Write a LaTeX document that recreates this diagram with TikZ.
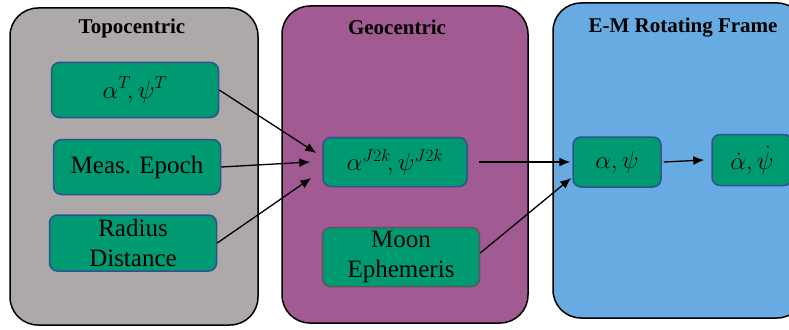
\documentclass[tikz,border=0pt]{standalone}
\usepackage{fontspec}
\setmainfont{Liberation Serif}
\usetikzlibrary{arrows.meta}
\definecolor{topogray}{HTML}{ADA9A9}
\definecolor{geopurple}{HTML}{A15A92}
\definecolor{rotblue}{HTML}{68ABE3}
\definecolor{boxgreen}{HTML}{009A72}
\definecolor{boxedge}{HTML}{2F528F}
\tikzset{
  panel/.style={draw=black,line width=1.5pt,rounded corners=28pt},
  paneltitle/.style={font=\rmfamily\bfseries\fontsize{21}{24}\selectfont,inner sep=0pt},
  quantity/.style={draw=boxedge,fill=boxgreen,line width=1.5pt,rounded corners=8pt,
    align=center,font=\rmfamily\fontsize{25}{30}\selectfont,inner sep=0pt},
  flow/.style={->,line width=1.3pt}
}
\begin{document}
\begin{tikzpicture}[x=1pt,y=-1pt,>={Latex[length=11pt,width=9pt]}]
  \clip (0,0) rectangle (789,329);
  \fill[white] (0,0) rectangle (789,329);
  % frames
  \draw[panel,fill=topogray] (10,8) rectangle (258,325);
  \draw[panel,fill=geopurple] (282,6) rectangle (528,323);
  \draw[panel,fill=rotblue] (553,3) rectangle (805,318);
  \node[paneltitle] (topo) at (132,28) {Topocentric};
  \node[paneltitle] (geo) at (397,27) {Geocentric};
  \node[paneltitle] (rot) at (683,28) {E-M Rotating Frame};
  % quantities
  \node[quantity,minimum width=167pt,minimum height=55pt] (topoangles) at (135,90)
    {$\alpha^T\!,\psi^T$};
  \node[quantity,minimum width=167pt,minimum height=55pt] (epoch) at (137,167)
    {Meas. Epoch};
  \node[quantity,minimum width=167pt,minimum height=56pt] (radius) at (133,243)
    {Radius\\Distance};
  \node[quantity,minimum width=144pt,minimum height=49pt] (jangles) at (395,162)
    {$\alpha^{J2k}\!,\psi^{J2k}$};
  \node[quantity,draw=gray!70!black,minimum width=157pt,minimum height=59pt] (moon) at (401,257)
    {Moon\\Ephemeris};
  \node[quantity,minimum width=88pt,minimum height=50pt] (rotangles) at (617,162)
    {$\alpha,\psi$};
  \node[quantity,minimum width=80pt,minimum height=51pt] (rates) at (752,160)
    {$\dot{\alpha},\dot{\psi}$};
  % transformations
  \draw[flow] (topoangles.east) -- ([xshift=-6pt,yshift=9pt]jangles.west);
  \draw[flow] (epoch.east) -- ([xshift=-12pt]jangles.west);
  \draw[flow] (radius.east) -- ([xshift=-11pt,yshift=-16pt]jangles.west);
  \draw[flow,shorten <=11pt] (jangles.east) -- ([xshift=-2pt]rotangles.west);
  \draw[flow] ([yshift=4pt]moon.east) -- ([xshift=-1pt,yshift=-16pt]rotangles.west);
  \draw[flow] ([xshift=2pt]rotangles.east) -- ([xshift=-7pt]rates.west);
\end{tikzpicture}
\end{document}
